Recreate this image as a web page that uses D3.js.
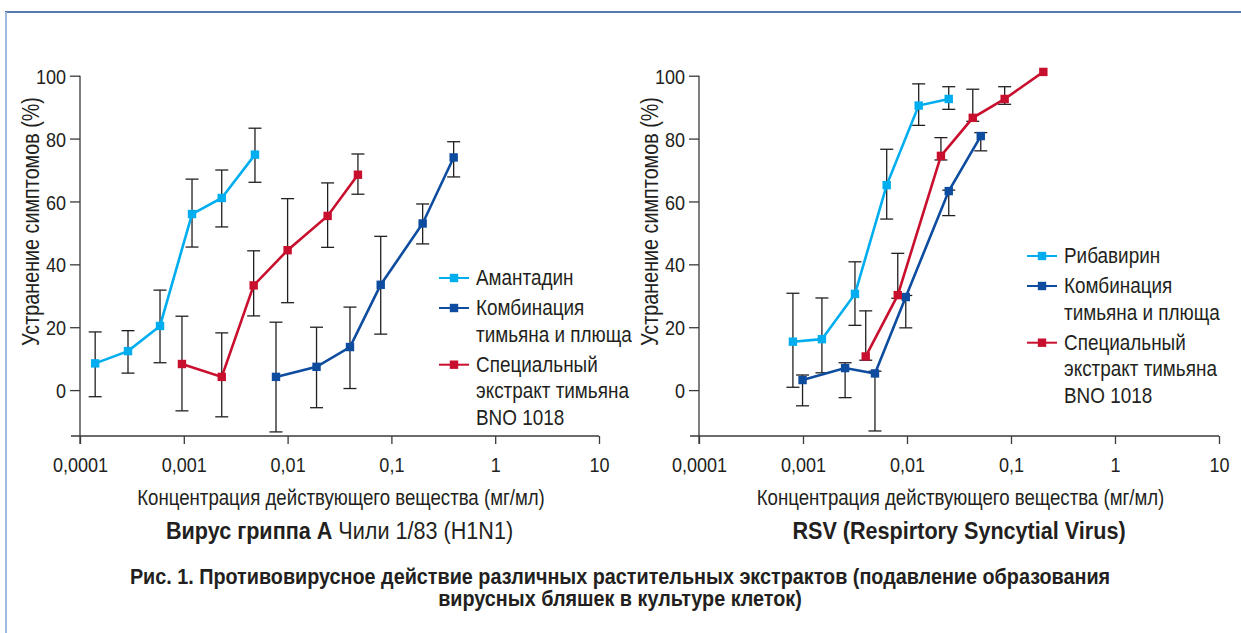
<!DOCTYPE html>
<html><head><meta charset="utf-8">
<script src="https://cdn.jsdelivr.net/npm/d3@7"></script>
<style>
html,body{margin:0;padding:0;background:#fff;}
svg{display:block;}
text{font-family:"Liberation Sans",Arial,sans-serif;fill:#231f20;}
</style></head>
<body>
<svg id="c" width="1241" height="633"></svg>
<script>
// ---------- data ----------
const tickValuesX = [0.0001, 0.001, 0.01, 0.1, 1, 10];
const tickLabelsX = ["0,0001", "0,001", "0,01", "0,1", "1", "10"];
const tickValuesY = [0, 20, 40, 60, 80, 100];

// Left panel: Influenza A
const fluAmantadineX = [0.00014, 0.00029, 0.00059, 0.0012, 0.00232, 0.00485];
const fluAmantadineY = [8.5, 12.4, 20.4, 56.0, 61.1, 74.9];
const fluAmantadineLo = [-2.1, 5.4, 8.7, 45.5, 51.9, 66.1];
const fluAmantadineHi = [18.5, 18.9, 31.8, 67.1, 70.0, 83.3];

const fluComboX = [0.00773, 0.019, 0.0399, 0.0789, 0.2, 0.398];
const fluComboY = [4.2, 7.4, 13.7, 33.5, 53.0, 74.0];
const fluComboLo = [-13.3, -5.6, 0.5, 17.8, 46.5, 67.8];
const fluComboHi = [21.6, 20.0, 26.4, 48.9, 59.2, 79.0];

const fluThymeX = [0.00096, 0.00232, 0.00471, 0.01, 0.0243, 0.0476];
const fluThymeY = [8.3, 4.2, 33.3, 44.5, 55.4, 68.5];
const fluThymeLo = [-6.6, -8.5, 23.6, 27.8, 45.4, 62.3];
const fluThymeHi = [23.5, 18.2, 44.3, 60.9, 65.9, 75.1];

// Right panel: RSV
const rsvRibavirinX = [0.0008, 0.00152, 0.00316, 0.00638, 0.01295, 0.0252];
const rsvRibavirinY = [15.4, 16.2, 30.6, 65.2, 90.5, 92.6];
const rsvRibavirinLo = [0.9, 5.5, 20.6, 54.4, 84.2, 89.3];
const rsvRibavirinHi = [30.8, 29.3, 40.8, 76.6, 97.4, 96.5];

const rsvComboX = [0.00099, 0.00254, 0.00492, 0.00973, 0.0252, 0.0512];
const rsvComboY = [3.2, 7.0, 5.3, 29.6, 63.3, 80.8];
const rsvComboLo = [-5.0, -2.4, -13.0, 19.8, 55.5, 76.1];
const rsvComboHi = [4.8, 8.7, 6.0, 30.1, 63.6, 81.9];

const rsvThymeX = [0.00401, 0.00815, 0.0212, 0.0429, 0.0869, 0.2046];
const rsvThymeY = [10.7, 30.2, 74.5, 86.6, 92.6, 101.2];
const rsvThymeLo = [9.5, 29.2, 73.2, 85.5, 90.9, null];
const rsvThymeHi = [25.2, 43.5, 80.3, 95.7, 96.5, null];

const legendLeft = [["Амантадин"], ["Комбинация", "тимьяна и плюща"], ["Специальный", "экстракт тимьяна", "BNO 1018"]];
const legendRight = [["Рибавирин"], ["Комбинация", "тимьяна и плюща"], ["Специальный", "экстракт тимьяна", "BNO 1018"]];
const yTitle = "Устранение симптомов (%)";
const xTitle = "Концентрация действующего вещества (мг/мл)";
const captionLines = ["Рис. 1. Противовирусное действие различных растительных экстрактов (подавление образования", "вирусных бляшек в культуре клеток)"];

// ---------- style ----------
const C_LIGHT = "#00aeef", C_DARK = "#0d4c9f", C_RED = "#c8102e";
const AXIS = "#3a3a3a";
const SX = 0.86; // horizontal condensation to imitate a condensed face
const svg = d3.select("#c");

// text helper: condensed text anchored at (x,y)
function ctext(parent, x, y, size, anchor, sx, rot){
  const g = parent.append("g").attr("transform", `translate(${x},${y})` + (rot?` rotate(${rot})`:"") + ` scale(${sx},1)`);
  return g.append("text").attr("text-anchor", anchor).attr("font-size", size);
}

// frame
svg.append("line").attr("x1",5).attr("x2",1241).attr("y1",12).attr("y2",12).attr("stroke","#1d4f91").attr("stroke-width",1.6);
svg.append("line").attr("x1",6).attr("x2",6).attr("y1",12).attr("y2",633).attr("stroke","#9dbbe0").attr("stroke-width",2);

function mk(arrX, arrY, lo, hi){ return arrX.map((x,i)=>({x, y:arrY[i], lo: lo[i], hi: hi[i]})); }

function panel(opt){
  const x = d3.scaleLog().domain([0.0001, 10]).range([opt.x0, opt.x1]);
  const y = d3.scaleLinear().domain([-14.6, 100]).range([436, 75.7]);
  const g = svg.append("g");
  // x axis
  const xa = g.append("g").attr("transform","translate(0,436)")
    .call(d3.axisBottom(x).tickValues(tickValuesX).tickFormat((d,i)=>tickLabelsX[i]).tickSize(8).tickSizeOuter(0));
  xa.select(".domain").remove();
  xa.selectAll(".tick line").attr("stroke",AXIS).attr("stroke-width",1.3);
  xa.selectAll(".tick text").attr("font-size",21).attr("dy",null).attr("y",36.5)
    .attr("transform",`scale(${SX},1)`).style("font-family",null);
  g.append("line").attr("x1",x(0.0001)-9).attr("x2",x(10)).attr("y1",436).attr("y2",436).attr("stroke",AXIS).attr("stroke-width",1.3);
  // y axis
  const ya = g.append("g").attr("transform",`translate(${opt.x0},0)`)
    .call(d3.axisLeft(y).tickValues(tickValuesY).tickSize(10).tickSizeOuter(0));
  ya.select(".domain").remove();
  ya.selectAll(".tick line").attr("stroke",AXIS).attr("stroke-width",1.3);
  ya.selectAll(".tick text").attr("font-size",21).attr("x",-14/SX).attr("dy","0.36em")
    .attr("transform",`scale(${SX},1)`).style("font-family",null);
  g.append("line").attr("x1",opt.x0).attr("x2",opt.x0).attr("y1",y(100)).attr("y2",444).attr("stroke",AXIS).attr("stroke-width",1.3);
  g.selectAll(".tick text").attr("fill","#231f20");
  // titles
  ctext(g, opt.x0-49, 221.5, 23, "middle", SX, -90).attr("dominant-baseline","central").text(yTitle);
  ctext(g, (opt.x0+opt.x1)/2+1.5, 505, 21.7, "middle", SX).text(xTitle);
  const st = ctext(g, (opt.x0+opt.x1)/2, 538.5, 24, "middle", 0.9);
  opt.subtitle.forEach(s=>st.append("tspan").attr("font-weight",s.b?"bold":"normal").text(s.t));

  // series: error bars, then lines, then markers
  opt.series.forEach(s=>{
    const eb = g.append("g").attr("stroke","#231f20").attr("stroke-width",1.3).attr("fill","none");
    s.data.filter(p=>p.lo!=null).forEach(p=>{
      eb.append("line").attr("x1",x(p.x)).attr("x2",x(p.x)).attr("y1",y(p.hi)).attr("y2",y(p.lo));
      eb.append("line").attr("x1",x(p.x)-6.5).attr("x2",x(p.x)+6.5).attr("y1",y(p.hi)).attr("y2",y(p.hi));
      eb.append("line").attr("x1",x(p.x)-6.5).attr("x2",x(p.x)+6.5).attr("y1",y(p.lo)).attr("y2",y(p.lo));
    });
  });
  opt.series.forEach(s=>{
    g.append("path").datum(s.data).attr("fill","none").attr("stroke",s.color).attr("stroke-width",2.6)
      .attr("d",d3.line().x(p=>x(p.x)).y(p=>y(p.y)));
  });
  opt.series.forEach(s=>{
    g.selectAll(null).data(s.data).enter().append("rect")
      .attr("x",p=>x(p.x)-4.2).attr("y",p=>y(p.y)-4.2).attr("width",8.4).attr("height",8.4).attr("fill",s.color);
  });
  // legend
  const lg = g.append("g");
  let ly = opt.legY;
  opt.legend.forEach((lines,i)=>{
    const col = opt.series[i].color;
    lg.append("line").attr("x1",opt.legX).attr("x2",opt.legX+30).attr("y1",ly+1).attr("y2",ly+1).attr("stroke",col).attr("stroke-width",2);
    lg.append("rect").attr("x",opt.legX+15-4.2).attr("y",ly+1-4.2).attr("width",8.4).attr("height",8.4).attr("fill",col);
    lines.forEach((t,j)=>{
      ctext(lg, opt.legX+37, ly+j*26.7, 22, "start", SX).attr("dominant-baseline","central").text(t);
    });
    ly += lines.length*26.7 + 3.3;
  });
}

panel({x0:80, x1:599, legX:439, legY:277,
  legend: legendLeft,
  subtitle:[{t:"Вирус гриппа А",b:true},{t:" Чили 1/83 (H1N1)",b:false}],
  series:[
    {color:C_LIGHT, data: mk(fluAmantadineX, fluAmantadineY, fluAmantadineLo, fluAmantadineHi)},
    {color:C_DARK, data: mk(fluComboX, fluComboY, fluComboLo, fluComboHi)},
    {color:C_RED, data: mk(fluThymeX, fluThymeY, fluThymeLo, fluThymeHi)}
  ]});
panel({x0:699, x1:1219, legX:1027, legY:255,
  legend: legendRight,
  subtitle:[{t:"RSV (Respirtory Syncytial Virus)",b:true}],
  series:[
    {color:C_LIGHT, data: mk(rsvRibavirinX, rsvRibavirinY, rsvRibavirinLo, rsvRibavirinHi)},
    {color:C_DARK, data: mk(rsvComboX, rsvComboY, rsvComboLo, rsvComboHi)},
    {color:C_RED, data: mk(rsvThymeX, rsvThymeY, rsvThymeLo, rsvThymeHi)}
  ]});

// caption
captionLines.forEach((t,i)=>{
  ctext(svg, 620, 584+i*22, 22, "middle", 0.9).attr("font-weight","bold").text(t);
});
</script>
</body></html>
